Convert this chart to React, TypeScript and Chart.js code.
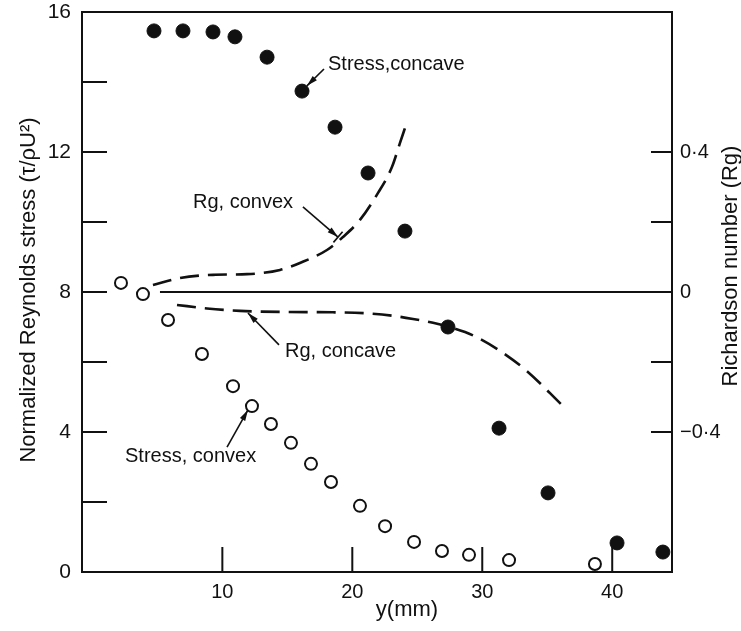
import React, { useEffect, useRef } from "react";
import { Chart, registerables } from "chart.js";

Chart.register(...registerables);

// ---- data ----
const concaveY_mm = [4.74, 6.97, 9.28, 10.97, 13.44, 16.13, 18.67, 21.21, 24.05, 27.36, 31.29, 35.06, 40.37, 43.9];
const concaveStress = [15.46, 15.46, 15.43, 15.29, 14.71, 13.74, 12.71, 11.4, 9.74, 7.0, 4.11, 2.26, 0.83, 0.57];

const convexY_mm = [2.2, 3.89, 5.82, 8.43, 10.82, 12.28, 13.74, 15.28, 16.82, 18.36, 20.59, 22.52, 24.75, 26.9, 28.98, 32.06, 38.67];
const convexStress = [8.26, 7.94, 7.2, 6.23, 5.31, 4.74, 4.23, 3.69, 3.09, 2.57, 1.89, 1.31, 0.86, 0.6, 0.49, 0.34, 0.23];

const rgConvexY_mm = [4.66, 6.74, 9.28, 11.9, 14.44, 15.97, 18.05, 19.28, 20.59, 21.98, 23.05, 23.67, 24.13];
const rgConvex = [0.02, 0.04, 0.049, 0.051, 0.063, 0.083, 0.12, 0.157, 0.206, 0.283, 0.357, 0.426, 0.477];

const rgConcaveY_mm = [6.51, 8.82, 11.36, 14.67, 18.51, 21.13, 23.13, 24.67, 26.21, 27.36, 29.29, 31.36, 33.44, 36.13];
const rgConcave = [-0.037, -0.047, -0.054, -0.057, -0.058, -0.061, -0.068, -0.077, -0.088, -0.099, -0.124, -0.168, -0.226, -0.323];

const zeroLineY_mm = [5.2, 44.6];
const zeroLineRg = [0, 0];

const xTickValues = [10, 20, 30, 40];
const stressTickValues = [0, 4, 8, 12, 16];
const stressMinorTicks = [2, 4, 6, 8, 10, 12, 14];
const rgTickValues = [-0.4, 0, 0.4];
const rgTickLabels = ["\u22120\u00b74", "0", "0\u00b74"];
const rgMinorTicks = [-0.4, -0.2, 0.2, 0.4];

const xTitle = "y(mm)";
const leftTitle = "Normalized Reynolds stress (\u03c4/\u03c1U\u00b2)";
const rightTitle = "Richardson number (Rg)";

const labelConcave = "Stress,concave";
const labelRgConvex = "Rg, convex";
const labelRgConcave = "Rg, concave";
const labelConvex = "Stress, convex";

const FONT = "'Liberation Sans', Arial, sans-serif";
const INK = "#111";

const zip = (xs: number[], ys: number[]) => xs.map((x, i) => ({ x, y: ys[i] }));

const decorPlugin = {
  id: "decor",
  beforeDraw(chart: any) {
    const { ctx, width, height } = chart;
    ctx.save();
    ctx.fillStyle = "#fff";
    ctx.fillRect(0, 0, width, height);
    ctx.restore();
  },
  beforeDatasetsDraw(chart: any) {
    const { ctx, chartArea: a, scales } = chart;
    const { x, y, y1 } = scales;
    ctx.save();
    ctx.strokeStyle = INK;
    ctx.lineWidth = 2;
    ctx.strokeRect(a.left, a.top, a.right - a.left, a.bottom - a.top);
    ctx.beginPath();
    stressMinorTicks.forEach((v) => {
      const py = y.getPixelForValue(v);
      ctx.moveTo(a.left, py);
      ctx.lineTo(a.left + 25, py);
    });
    rgMinorTicks.forEach((v) => {
      const py = y1.getPixelForValue(v);
      ctx.moveTo(a.right - 21, py);
      ctx.lineTo(a.right, py);
    });
    xTickValues.forEach((v) => {
      const px = x.getPixelForValue(v);
      ctx.moveTo(px, a.bottom);
      ctx.lineTo(px, a.bottom - 25);
    });
    ctx.stroke();
    ctx.restore();
  },
  afterDraw(chart: any) {
    const { ctx, scales } = chart;
    const { x, y } = scales;
    ctx.save();
    ctx.fillStyle = INK;
    ctx.strokeStyle = INK;
    // axis titles
    ctx.font = `22px ${FONT}`;
    ctx.textAlign = "center";
    ctx.textBaseline = "middle";
    ctx.fillText(xTitle, 407, 610);
    ctx.save();
    ctx.translate(29, 290);
    ctx.rotate(-Math.PI / 2);
    ctx.fillText(leftTitle, 0, 0);
    ctx.restore();
    ctx.save();
    ctx.translate(731, 266);
    ctx.rotate(-Math.PI / 2);
    ctx.fillText(rightTitle, 0, 0);
    ctx.restore();

    // annotations (positioned in data units)
    const notes = chart.options.plugins.decor.notes;
    ctx.font = `20px ${FONT}`;
    ctx.textAlign = "left";
    ctx.textBaseline = "middle";
    ctx.lineWidth = 1.6;
    notes.forEach((n: any) => {
      ctx.fillText(n.text, x.getPixelForValue(n.tx), y.getPixelForValue(n.ty));
      const x1 = x.getPixelForValue(n.ax1), y1p = y.getPixelForValue(n.ay1);
      const x2 = x.getPixelForValue(n.ax2), y2p = y.getPixelForValue(n.ay2);
      ctx.beginPath();
      ctx.moveTo(x1, y1p);
      ctx.lineTo(x2, y2p);
      ctx.stroke();
      const ang = Math.atan2(y2p - y1p, x2 - x1);
      const hl = 11, hw = 3;
      ctx.beginPath();
      ctx.moveTo(x2, y2p);
      ctx.lineTo(x2 - hl * Math.cos(ang) + hw * Math.sin(ang), y2p - hl * Math.sin(ang) - hw * Math.cos(ang));
      ctx.lineTo(x2 - hl * Math.cos(ang) - hw * Math.sin(ang), y2p - hl * Math.sin(ang) + hw * Math.cos(ang));
      ctx.closePath();
      ctx.fill();
      if (n.bar) {
        ctx.beginPath();
        ctx.moveTo(x2 + 7 * Math.sin(ang), y2p - 7 * Math.cos(ang));
        ctx.lineTo(x2 - 7 * Math.sin(ang), y2p + 7 * Math.cos(ang));
        ctx.stroke();
      }
    });
    ctx.restore();
  },
};

export default function App() {
  const ref = useRef<HTMLCanvasElement>(null);
  useEffect(() => {
    if (!ref.current) return;
    const dashed = {
      type: "line" as const,
      yAxisID: "y1",
      borderColor: INK,
      borderWidth: 2.6,
      borderDash: [19, 9],
      pointRadius: 0,
      fill: false,
      tension: 0.4,
      cubicInterpolationMode: "monotone" as const,
      order: 2,
    };
    const chart = new Chart(ref.current, {
      type: "scatter",
      data: {
        datasets: [
          {
            label: "Stress, concave",
            data: zip(concaveY_mm, concaveStress),
            yAxisID: "y",
            pointRadius: 7,
            pointBackgroundColor: INK,
            pointBorderColor: INK,
            pointBorderWidth: 1,
            order: 0,
          },
          {
            label: "Stress, convex",
            data: zip(convexY_mm, convexStress),
            yAxisID: "y",
            pointRadius: 6,
            pointBackgroundColor: "rgba(255,255,255,0)",
            pointBorderColor: INK,
            pointBorderWidth: 2,
            order: 0,
          },
          { ...dashed, label: "Rg, convex", data: zip(rgConvexY_mm, rgConvex) },
          { ...dashed, label: "Rg, concave", data: zip(rgConcaveY_mm, rgConcave) },
          {
            type: "line",
            label: "Rg = 0",
            data: zip(zeroLineY_mm, zeroLineRg),
            yAxisID: "y1",
            borderColor: INK,
            borderWidth: 1.8,
            pointRadius: 0,
            fill: false,
            order: 3,
          },
        ] as any,
      },
      options: {
        animation: false,
        responsive: true,
        maintainAspectRatio: false,
        layout: { padding: { top: 12, left: 0, right: 0, bottom: 0 } },
        plugins: {
          legend: { display: false },
          tooltip: { enabled: false },
          decor: {
            notes: [
              { text: labelConcave, tx: 18.13, ty: 14.51, ax1: 17.82, ay1: 14.37, ax2: 16.51, ay2: 13.89 },
              { text: labelRgConvex, tx: 7.74, ty: 10.57, ax1: 16.2, ay1: 10.43, ax2: 18.9, ay2: 9.57, bar: true },
              { text: labelRgConcave, tx: 14.82, ty: 6.31, ax1: 14.36, ay1: 6.49, ax2: 11.97, ay2: 7.4 },
              { text: labelConvex, tx: 2.51, ty: 3.29, ax1: 10.36, ay1: 3.57, ax2: 11.97, ay2: 4.63 },
            ],
          },
        } as any,
        scales: {
          x: {
            type: "linear",
            min: -0.8,
            max: 44.6,
            afterBuildTicks: (s: any) => {
              s.ticks = xTickValues.map((v) => ({ value: v }));
            },
            afterFit: (s: any) => {
              s.height = 59;
              s.paddingLeft = 0;
              s.paddingRight = 0;
            },
            grid: { display: false, drawTicks: false },
            border: { display: false },
            ticks: { color: INK, font: { family: FONT, size: 20 }, padding: 8, maxRotation: 0, autoSkip: false },
          },
          y: {
            type: "linear",
            position: "left",
            min: 0,
            max: 16,
            afterBuildTicks: (s: any) => {
              s.ticks = stressTickValues.map((v) => ({ value: v }));
            },
            afterFit: (s: any) => {
              s.width = 82;
              s.paddingTop = 0;
              s.paddingBottom = 0;
            },
            grid: { display: false, drawTicks: false },
            border: { display: false },
            ticks: { color: INK, font: { family: FONT, size: 21 }, padding: 11, autoSkip: false },
          },
          y1: {
            type: "linear",
            position: "right",
            min: -0.8,
            max: 0.8,
            afterBuildTicks: (s: any) => {
              s.ticks = rgTickValues.map((v) => ({ value: v }));
            },
            afterFit: (s: any) => {
              s.width = 69;
              s.paddingTop = 0;
              s.paddingBottom = 0;
            },
            grid: { display: false, drawTicks: false },
            border: { display: false },
            ticks: {
              color: INK,
              font: { family: FONT, size: 20 },
              padding: 8,
              autoSkip: false,
              callback: (v: any) => {
                const i = rgTickValues.findIndex((t) => Math.abs(t - Number(v)) < 1e-9);
                return i >= 0 ? rgTickLabels[i] : "";
              },
            },
          },
        },
      },
      plugins: [decorPlugin],
    } as any);
    return () => chart.destroy();
  }, []);
  return (
    <div style={{ position: "fixed", left: 0, top: 0, width: 741, height: 631, background: "#fff" }}>
      <canvas ref={ref} />
    </div>
  );
}
